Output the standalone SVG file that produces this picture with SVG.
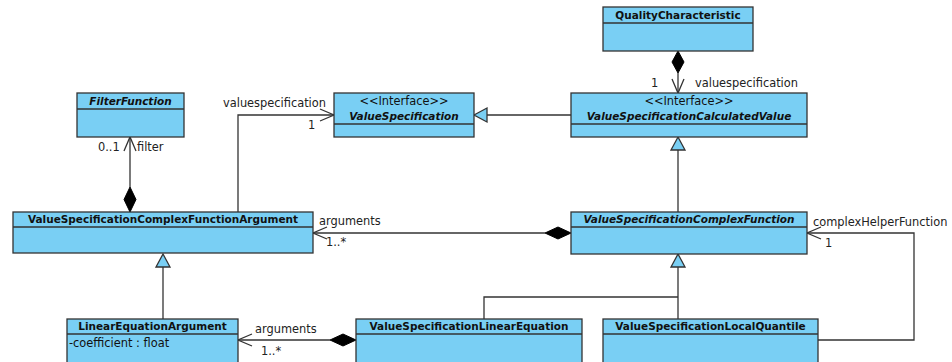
<svg xmlns="http://www.w3.org/2000/svg" width="952" height="362" viewBox="0 0 952 362">
  <style>
    .box { fill: #79CFF4; stroke: #333; stroke-width: 1.3; }
    .sep { stroke: #333; stroke-width: 1.3; fill: none; }
    .name { font-family: "DejaVu Sans", sans-serif; font-size: 10.5px; font-weight: bold; fill: #111; text-anchor: middle; }
    .abs { font-style: italic; }
    .ster { font-family: "DejaVu Sans", sans-serif; font-size: 11.4px; fill: #111; text-anchor: middle; }
    .attr { font-family: "DejaVu Sans", sans-serif; font-size: 11.4px; fill: #111; }
    .lbl { font-family: "DejaVu Sans", sans-serif; font-size: 11.4px; fill: #222; }
    .line { stroke: #333; stroke-width: 1.3; fill: none; }
    .diamond { fill: #000; stroke: #000; stroke-width: 1; }
    .tri { fill: #79CFF4; stroke: #333; stroke-width: 1.3; }
  </style>

  <!-- connectors -->
  <g id="connectors">
    <!-- QualityCharacteristic composes ValueSpecificationCalculatedValue -->
    <line class="line" x1="678" y1="73" x2="678" y2="93"/>
    <polygon class="diamond" points="678,51 684,62 678,73 672,62"/>
    <polyline class="line" points="672,79 678,93 684,79"/>
    <text class="lbl" x="651" y="87">1</text>
    <text class="lbl" x="695" y="87">valuespecification</text>

    <!-- ValueSpecificationCalculatedValue realizes ValueSpecification -->
    <line class="line" x1="487" y1="115" x2="571" y2="115"/>
    <polygon class="tri" points="474,115 487,108 487,122"/>

    <!-- ValueSpecificationComplexFunction specializes ValueSpecificationCalculatedValue -->
    <line class="line" x1="678" y1="150" x2="678" y2="212"/>
    <polygon class="tri" points="678,137 685,150 671,150"/>

    <!-- ValueSpecificationComplexFunctionArgument -> ValueSpecification -->
    <polyline class="line" points="238,212 238,115 334,115"/>
    <polyline class="line" points="320,109 334,115 320,121"/>
    <text class="lbl" x="223" y="107">valuespecification</text>
    <text class="lbl" x="308" y="129">1</text>

    <!-- filter composition -->
    <line class="line" x1="130" y1="137" x2="130" y2="187"/>
    <polygon class="diamond" points="130,187 136,199.5 130,212 124,199.5"/>
    <polyline class="line" points="124,151 130,137 136,151"/>
    <text class="lbl" x="98" y="151">0..1</text>
    <text class="lbl" x="137" y="151">filter</text>

    <!-- arguments: ValueSpecificationComplexFunction -> ValueSpecificationComplexFunctionArgument -->
    <line class="line" x1="313" y1="233" x2="545" y2="233"/>
    <polygon class="diamond" points="571,233 558,239 545,233 558,227"/>
    <polyline class="line" points="327,227 313,233 327,239"/>
    <text class="lbl" x="319" y="225">arguments</text>
    <text class="lbl" x="326" y="246">1..*</text>

    <!-- LinearEquationArgument specializes ValueSpecificationComplexFunctionArgument -->
    <line class="line" x1="163" y1="267" x2="163" y2="319"/>
    <polygon class="tri" points="163,254 170,267 156,267"/>

    <!-- subclasses of ValueSpecificationComplexFunction -->
    <polyline class="line" points="484,319 484,297 678,297"/>
    <line class="line" x1="678" y1="267" x2="678" y2="319"/>
    <polygon class="tri" points="678,254 685,267 671,267"/>

    <!-- arguments: ValueSpecificationLinearEquation -> LinearEquationArgument -->
    <line class="line" x1="238" y1="340" x2="330" y2="340"/>
    <polygon class="diamond" points="356,340 343,346 330,340 343,334"/>
    <polyline class="line" points="252,334 238,340 252,346"/>
    <text class="lbl" x="255" y="333">arguments</text>
    <text class="lbl" x="261" y="355">1..*</text>

    <!-- complexHelperFunction -->
    <polyline class="line" points="818,340 914,340 914,233 807,233"/>
    <polyline class="line" points="821,227 807,233 821,239"/>
    <text class="lbl" x="813" y="226">complexHelperFunction</text>
    <text class="lbl" x="825" y="247">1</text>
  </g>

  <!-- classes -->
  <g id="QualityCharacteristic">
    <rect class="box" x="603" y="7" width="150" height="44"/>
    <line class="sep" x1="603" y1="23" x2="753" y2="23"/>
    <text class="name" x="678" y="19">QualityCharacteristic</text>
  </g>

  <g id="FilterFunction">
    <rect class="box" x="77" y="93" width="107" height="44"/>
    <line class="sep" x1="77" y1="109" x2="184" y2="109"/>
    <text class="name abs" x="130.5" y="105">FilterFunction</text>
  </g>

  <g id="ValueSpecification">
    <rect class="box" x="334" y="93" width="140" height="44"/>
    <line class="sep" x1="334" y1="124" x2="474" y2="124"/>
    <text class="ster" x="404" y="105">&lt;&lt;Interface&gt;&gt;</text>
    <text class="name abs" x="404" y="120">ValueSpecification</text>
  </g>

  <g id="ValueSpecificationCalculatedValue">
    <rect class="box" x="571" y="93" width="236" height="44"/>
    <line class="sep" x1="571" y1="124" x2="807" y2="124"/>
    <text class="ster" x="689" y="105">&lt;&lt;Interface&gt;&gt;</text>
    <text class="name abs" x="689" y="120">ValueSpecificationCalculatedValue</text>
  </g>

  <g id="ValueSpecificationComplexFunctionArgument">
    <rect class="box" x="13" y="212" width="300" height="41"/>
    <line class="sep" x1="13" y1="227" x2="313" y2="227"/>
    <text class="name" x="163" y="223">ValueSpecificationComplexFunctionArgument</text>
  </g>

  <g id="ValueSpecificationComplexFunction">
    <rect class="box" x="571" y="212" width="236" height="42"/>
    <line class="sep" x1="571" y1="227" x2="807" y2="227"/>
    <text class="name abs" x="689" y="223">ValueSpecificationComplexFunction</text>
  </g>

  <g id="LinearEquationArgument">
    <rect class="box" x="67" y="319" width="171" height="50"/>
    <line class="sep" x1="67" y1="334" x2="238" y2="334"/>
    <text class="name" x="152.5" y="330">LinearEquationArgument</text>
    <text class="attr" x="69" y="347">-coefficient : float</text>
  </g>

  <g id="ValueSpecificationLinearEquation">
    <rect class="box" x="356" y="319" width="226" height="50"/>
    <line class="sep" x1="356" y1="334" x2="582" y2="334"/>
    <text class="name" x="469" y="330">ValueSpecificationLinearEquation</text>
  </g>

  <g id="ValueSpecificationLocalQuantile">
    <rect class="box" x="603" y="319" width="215" height="50"/>
    <line class="sep" x1="603" y1="334" x2="818" y2="334"/>
    <text class="name" x="710.5" y="330">ValueSpecificationLocalQuantile</text>
  </g>
</svg>
